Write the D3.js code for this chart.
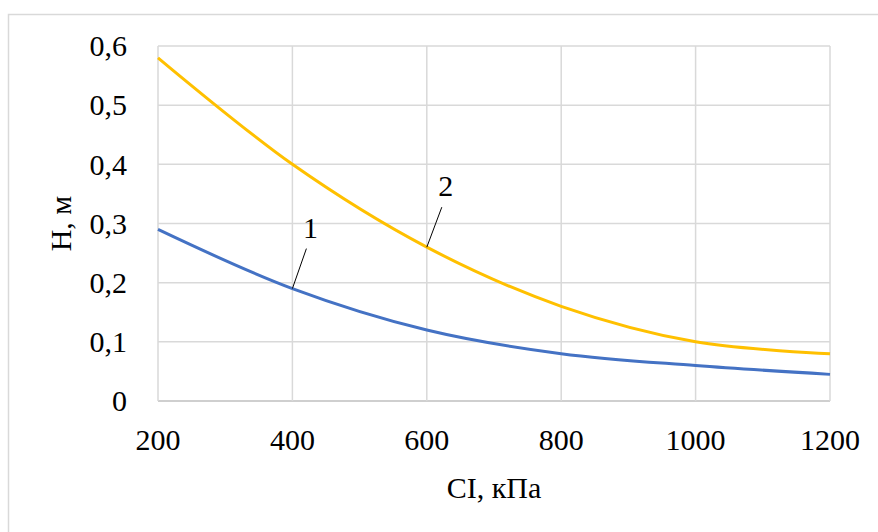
<!DOCTYPE html>
<html>
<head>
<meta charset="utf-8">
<script src="https://cdn.jsdelivr.net/npm/d3@7"></script>
<style>
  html, body { margin: 0; padding: 0; background: #fff; }
  svg { display: block; }
</style>
</head>
<body>
<div id="chart"></div>
<script>
const W = 878, H = 532;

// CI, kPa
const CI = [200, 400, 600, 800, 1000, 1200];
// H, m
const series1 = [0.29, 0.19, 0.12, 0.08, 0.06, 0.045];
const series2 = [0.58, 0.4, 0.26, 0.16, 0.1, 0.08];
const X_TICKS = [200, 400, 600, 800, 1000, 1200];
const Y_TICKS = [0, 0.1, 0.2, 0.3, 0.4, 0.5, 0.6];

const margin = { left: 158, right: 48, top: 46, bottom: 131 };

const x = d3.scaleLinear().domain([200, 1200]).range([margin.left, W - margin.right]);
const y = d3.scaleLinear().domain([0, 0.6]).range([H - margin.bottom, margin.top]);

const fmt = (v) => String(+v.toFixed(1)).replace(".", ",");

const svg = d3.select("#chart").append("svg")
  .attr("width", W).attr("height", H);

function txt(sel) {
  return sel.attr("font-family", "Liberation Serif").attr("font-size", 30).attr("fill", "#000");
}

// chart frame (top + left visible)
svg.append("path")
  .attr("d", `M8.5,${H}V14.5H${W}`)
  .attr("fill", "none")
  .attr("stroke", "#d9d9d9")
  .attr("stroke-width", 1.5);

// gridlines
svg.append("g").selectAll("line")
  .data(Y_TICKS).join("line")
  .attr("x1", x(200)).attr("x2", x(1200))
  .attr("y1", (d) => y(d)).attr("y2", (d) => y(d))
  .attr("stroke", (d) => (d === 0 ? "#bfbfbf" : "#d9d9d9"))
  .attr("stroke-width", 1.5);

svg.append("g").selectAll("line")
  .data(X_TICKS).join("line")
  .attr("x1", (d) => x(d)).attr("x2", (d) => x(d))
  .attr("y1", y(0)).attr("y2", y(0.6))
  .attr("stroke", "#d9d9d9")
  .attr("stroke-width", 1.5);

// tick labels
svg.append("g").selectAll("text")
  .data(Y_TICKS).join("text")
  .attr("x", 127).attr("y", (d) => y(d))
  .attr("dy", "0.34em")
  .attr("text-anchor", "end")
  .call(txt)
  .text(fmt);

svg.append("g").selectAll("text")
  .data(X_TICKS).join("text")
  .attr("x", (d) => x(d)).attr("y", 450)
  .attr("text-anchor", "middle")
  .call(txt)
  .text((d) => d);

// axis titles
svg.append("text")
  .attr("x", (x(200) + x(1200)) / 2).attr("y", 498)
  .attr("text-anchor", "middle")
  .call(txt)
  .text("CI, кПа");

svg.append("text")
  .attr("transform", `translate(71,${(y(0) + y(0.6)) / 2}) rotate(-90)`)
  .attr("text-anchor", "middle")
  .call(txt)
  .text("H, м");

// lines
const line = d3.line()
  .x((d, i) => x(CI[i]))
  .y((d) => y(d))
  .curve(d3.curveCatmullRom.alpha(0.5));

svg.append("path").datum(series2)
  .attr("d", line)
  .attr("fill", "none")
  .attr("stroke", "#FFC000")
  .attr("stroke-width", 3);

svg.append("path").datum(series1)
  .attr("d", line)
  .attr("fill", "none")
  .attr("stroke", "#4472C4")
  .attr("stroke-width", 3);

// series labels with leader lines
const labels = [
  { name: "1", ci: 400, v: series1[1], dx: 14, dy: -40 },
  { name: "2", ci: 600, v: series2[2], dx: 15, dy: -40 },
];

labels.forEach((l) => {
  const px = x(l.ci), py = y(l.v);
  svg.append("line")
    .attr("x1", px).attr("y1", py)
    .attr("x2", px + l.dx).attr("y2", py + l.dy)
    .attr("stroke", "#000").attr("stroke-width", 1);
  svg.append("text")
    .attr("x", px + l.dx + 4).attr("y", py + l.dy - 11)
    .attr("text-anchor", "middle")
    .call(txt)
    .text(l.name);
});
</script>
</body>
</html>
